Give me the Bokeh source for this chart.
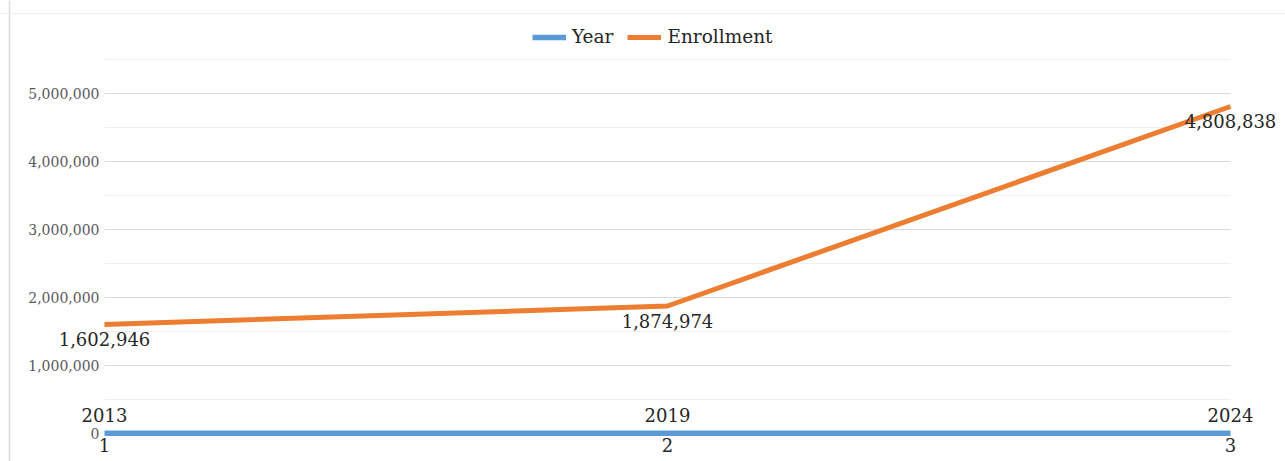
from bokeh.plotting import figure
from bokeh.models import (ColumnDataSource, LabelSet, Legend, LegendItem, Range1d,
                          FixedTicker, NumeralTickFormatter, Span)
from bokeh.core.properties import value
from bokeh.embed import file_html
from bokeh.resources import INLINE

categories = [1, 2, 3]
category_labels = ["1", "2", "3"]
years = [2013, 2019, 2024]
year_labels = ["2013", "2019", "2024"]
enrollment = [1602946, 1874974, 4808838]
enrollment_labels = ["1,602,946", "1,874,974", "4,808,838"]
y_ticks = [0, 1000000, 2000000, 3000000, 4000000, 5000000]
y_minor_ticks = [500000, 1500000, 2500000, 3500000, 4500000, 5500000]

FONT = "DejaVu Serif"
BLUE = "#5B9BD5"
ORANGE = "#ED7D31"
DARK = "#262626"

W, H = 1285, 461
# pixel layout of the plotting area (left/right category positions, zero line)
X_LEFT, X_RIGHT, Y_ZERO, PX_PER_M = 104, 1230, 433, 68.0
ux = (X_RIGHT - X_LEFT) / (categories[-1] - categories[0])
x0 = categories[0] - X_LEFT / ux
x1 = categories[-1] + (W - X_RIGHT) / ux
y1 = Y_ZERO / PX_PER_M * 1e6
y0 = -(H - Y_ZERO) / PX_PER_M * 1e6

src = ColumnDataSource(dict(x=categories, year=years, enr=enrollment,
                            ylab=year_labels, elab=enrollment_labels))

p = figure(width=W, height=H, output_backend="svg", toolbar_location=None,
           x_range=Range1d(x0, x1), y_range=Range1d(y0, y1), min_border=0)
p.outline_line_color = None
p.background_fill_color = "white"
p.border_fill_color = "white"

# chart-area border (left and top edges); screen y is measured from the bottom
p.add_layout(Span(location=9, location_units="screen", dimension="height",
                  line_color="#dcdcdc", line_width=1.5, level="underlay"))
p.add_layout(Span(location=H - 13, location_units="screen", dimension="width",
                  line_color="#ededed", line_width=1, level="underlay"))

r_year = p.line("x", "year", source=src, line_color=BLUE, line_width=5.5)
r_enr = p.line("x", "enr", source=src, line_color=ORANGE, line_width=5)

# axes
p.xaxis.fixed_location = 0
p.xaxis.ticker = FixedTicker(ticks=categories)
p.xaxis.major_label_overrides = {c: l for c, l in zip(categories, category_labels)}
p.xaxis.axis_line_color = None
p.xaxis.major_tick_line_color = None
p.xaxis.minor_tick_line_color = None
p.xaxis.major_tick_out = 0
p.xaxis.major_tick_in = 0
p.xaxis.minor_tick_out = 0
p.xaxis.major_label_standoff = 4
p.xaxis.major_label_text_font = FONT
p.xaxis.major_label_text_font_size = "18px"
p.xaxis.major_label_text_color = DARK

p.yaxis.fixed_location = categories[0]
p.yaxis.ticker = FixedTicker(ticks=y_ticks, minor_ticks=y_minor_ticks)
p.yaxis.formatter = NumeralTickFormatter(format="0,0")
p.yaxis.axis_line_color = None
p.yaxis.major_tick_line_color = None
p.yaxis.minor_tick_line_color = None
p.yaxis.major_tick_out = 0
p.yaxis.major_tick_in = 0
p.yaxis.minor_tick_out = 0
p.yaxis.major_label_standoff = 5
p.yaxis.major_label_text_font = FONT
p.yaxis.major_label_text_font_size = "14px"
p.yaxis.major_label_text_color = "#595959"

p.xgrid.grid_line_color = None
p.ygrid.grid_line_color = "#d9d9d9"
p.ygrid.minor_grid_line_color = "#f0f0f0"
p.ygrid.cross_bounds = (categories[0], categories[-1])

# data labels
yl = LabelSet(x="x", y="year", text="ylab", source=src, y_offset=18,
              text_align="center", text_baseline="middle",
              text_font=value(FONT), text_font_size=value("18px"), text_color=DARK)
el = LabelSet(x="x", y="enr", text="elab", source=src, y_offset=-15,
              text_align="center", text_baseline="middle",
              text_font=value(FONT), text_font_size=value("18px"), text_color=DARK)
p.add_layout(yl)
p.add_layout(el)

legend = Legend(items=[LegendItem(label="Year", renderers=[r_year]),
                       LegendItem(label="Enrollment", renderers=[r_enr])],
                orientation="horizontal", location=(532, 414),
                padding=0, margin=0, spacing=14, label_standoff=6,
                glyph_width=34, glyph_height=18,
                border_line_color=None, background_fill_alpha=0,
                label_text_font=FONT, label_text_font_size="18.5px",
                label_text_color=DARK)
p.add_layout(legend)

open("out.html", "w").write(file_html(p, INLINE))
